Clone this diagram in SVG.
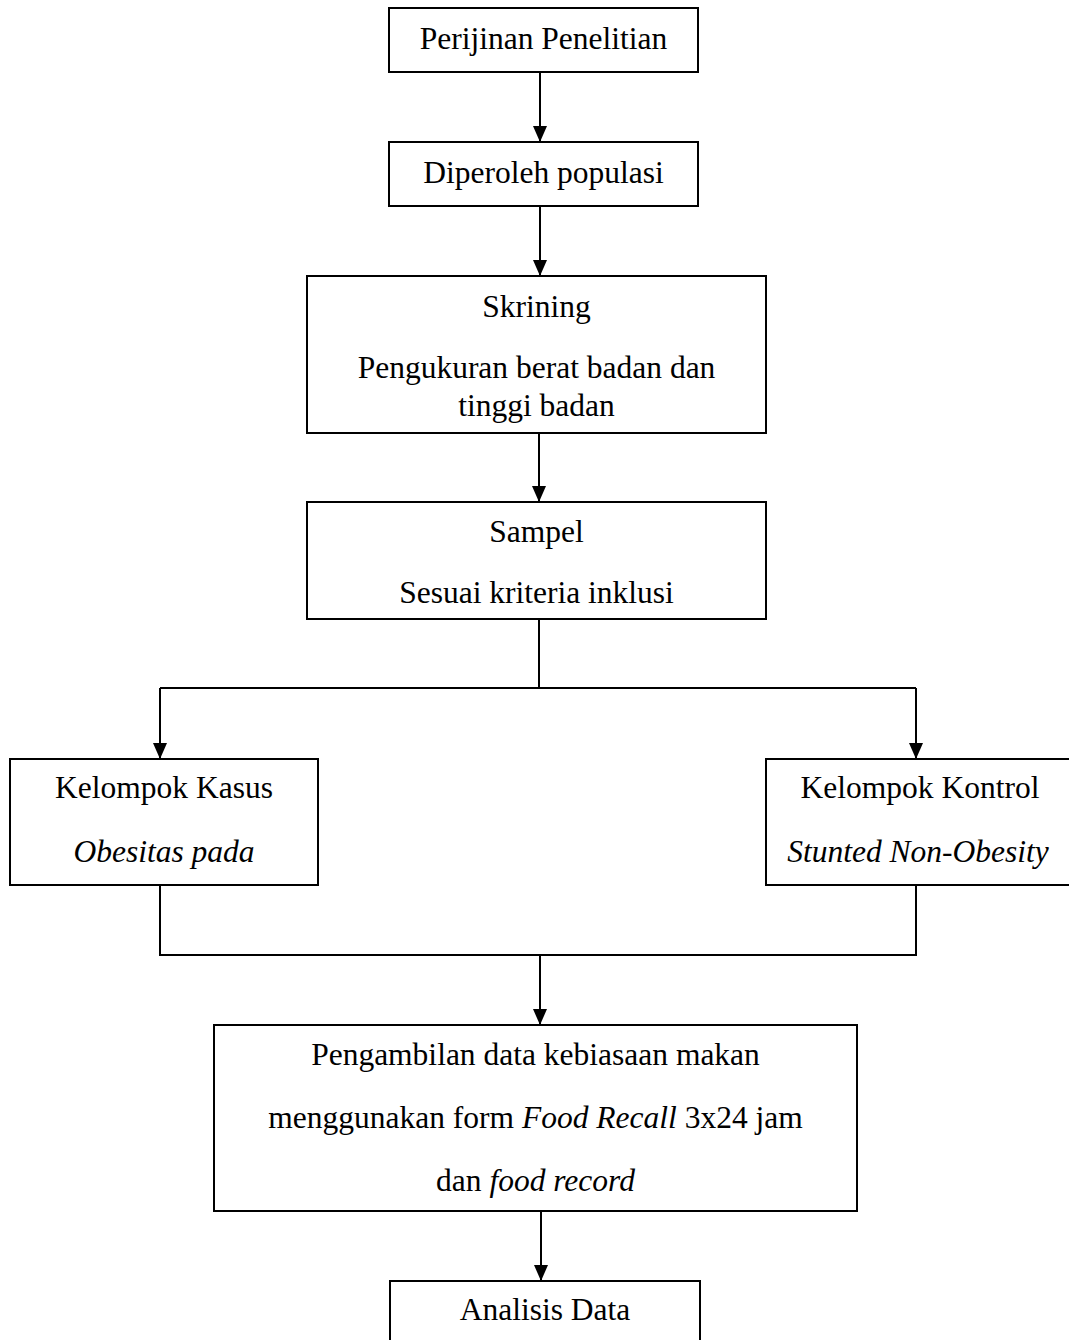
<svg xmlns="http://www.w3.org/2000/svg" width="1069" height="1340" viewBox="0 0 1069 1340">
<style>
  .box { fill: #ffffff; stroke: #000000; stroke-width: 2; }
  .t { font-family: "Liberation Serif", "Times New Roman", serif; font-size: 31.5px; fill: #000000; text-anchor: middle; }
  .i { font-style: italic; }
  .c { fill: none; stroke: #000000; stroke-width: 2; }
</style>
<defs>
  <marker id="ah" markerUnits="userSpaceOnUse" markerWidth="16" markerHeight="14" refX="16" refY="7" orient="auto" viewBox="0 0 16 14">
    <path d="M0,0 L16,7 L0,14 z" fill="#000000"/>
  </marker>
</defs>
<rect width="1069" height="1340" fill="#ffffff"/>
<g id="connectors">
  <line class="c" x1="540" y1="72" x2="540" y2="142" marker-end="url(#ah)"/>
  <line class="c" x1="540" y1="206" x2="540" y2="276" marker-end="url(#ah)"/>
  <line class="c" x1="539" y1="433" x2="539" y2="502" marker-end="url(#ah)"/>
  <polyline class="c" points="539,619 539,688"/>
  <polyline class="c" points="160,688 916,688"/>
  <line class="c" x1="160" y1="688" x2="160" y2="759" marker-end="url(#ah)"/>
  <line class="c" x1="916" y1="688" x2="916" y2="759" marker-end="url(#ah)"/>
  <polyline class="c" points="160,885 160,955 916,955 916,885"/>
  <line class="c" x1="540" y1="955" x2="540" y2="1025" marker-end="url(#ah)"/>
  <line class="c" x1="541" y1="1211" x2="541" y2="1281" marker-end="url(#ah)"/>
</g>
<g id="n1">
  <rect class="box" x="389" y="8" width="309" height="64"/>
  <text class="t" x="543.5" y="49">Perijinan Penelitian</text>
</g>
<g id="n2">
  <rect class="box" x="389" y="142" width="309" height="64"/>
  <text class="t" x="543.5" y="183">Diperoleh populasi</text>
</g>
<g id="n3">
  <rect class="box" x="307" y="276" width="459" height="157"/>
  <text class="t" x="536.5" y="317">Skrining</text>
  <text class="t" x="536.5" y="378">Pengukuran berat badan dan</text>
  <text class="t" x="536.5" y="416">tinggi badan</text>
</g>
<g id="n4">
  <rect class="box" x="307" y="502" width="459" height="117"/>
  <text class="t" x="536.5" y="542">Sampel</text>
  <text class="t" x="536.5" y="603">Sesuai kriteria inklusi</text>
</g>
<g id="n5">
  <rect class="box" x="10" y="759" width="308" height="126"/>
  <text class="t" x="164" y="798">Kelompok Kasus</text>
  <text class="t i" x="164" y="862">Obesitas pada</text>
</g>
<g id="n6">
  <rect class="box" x="766" y="759" width="308" height="126"/>
  <text class="t" x="920" y="798">Kelompok Kontrol</text>
  <text class="t i" x="918" y="862">Stunted Non-Obesity</text>
</g>
<g id="n7">
  <rect class="box" x="214" y="1025" width="643" height="186"/>
  <text class="t" x="535.5" y="1065">Pengambilan data kebiasaan makan</text>
  <text class="t" x="535.5" y="1128">menggunakan form <tspan class="i">Food Recall</tspan> 3x24 jam</text>
  <text class="t" x="535.5" y="1191">dan <tspan class="i">food record</tspan></text>
</g>
<g id="n8">
  <rect class="box" x="390" y="1281" width="310" height="80"/>
  <text class="t" x="545" y="1320">Analisis Data</text>
</g>
</svg>
